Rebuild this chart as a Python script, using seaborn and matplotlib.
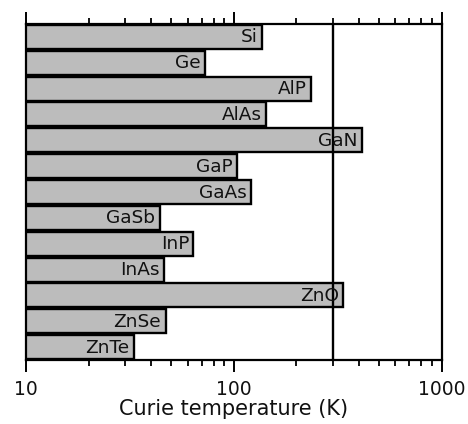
import matplotlib
matplotlib.use("Agg")
import matplotlib.pyplot as plt
import seaborn as sns
import pandas as pd
from matplotlib.ticker import LogLocator, NullFormatter

materials = ["Si", "Ge", "AlP", "AlAs", "GaN", "GaP", "GaAs", "GaSb", "InP", "InAs", "ZnO", "ZnSe", "ZnTe"]
curie_k = [137, 73, 235, 143, 413, 104, 121, 44, 64, 46, 337, 47, 33]
tick_values = [10, 100, 1000]
tick_labels = ["10", "100", "1000"]
room_temp = 300

sns.set_theme(style="white")
plt.rcParams["font.family"] = ["DejaVu Sans"]

df = pd.DataFrame({"material": materials, "tc": curie_k})

fig = plt.figure(figsize=(4.68, 4.24), dpi=100)
ax = fig.add_axes([26/468, 1-360/424, (441.5-26)/468, (360-24)/424])

sns.barplot(data=df, x="tc", y="material", orient="h", color="#bcbcbc",
            saturation=1, edgecolor="black", linewidth=1.7, width=0.93, ax=ax)
ax.set_xscale("log")
ax.set_xlim(10, 1000)
ax.set_ylim(len(materials) - 0.5, -0.5)

for i, (m, v) in enumerate(zip(materials, curie_k)):
    ax.text(v / 1.05, i + 0.02, m, ha="right", va="center", fontsize=13.3, color="#111111")

ax.axvline(room_temp, color="black", linewidth=1.7)

ax.set_xticks(tick_values, labels=tick_labels)
ax.xaxis.set_minor_locator(LogLocator(base=10, subs=range(2, 10)))
ax.xaxis.set_minor_formatter(NullFormatter())
ax.tick_params(axis="x", which="major", direction="out", length=8.5, width=1.4,
               top=True, bottom=True, labeltop=False, labelsize=13.5, pad=6,
               color="black", labelcolor="#111111")
ax.tick_params(axis="x", which="minor", direction="out", length=4.5, width=1.3,
               top=True, bottom=True, color="black")
ax.set_yticks([])
ax.set_ylabel("")
ax.set_xlabel("Curie temperature (K)", fontsize=15, labelpad=0, color="#111111")
for s in ax.spines.values():
    s.set_visible(True)
    s.set_color("black")
    s.set_linewidth(1.6)

fig.savefig("out.png", dpi=100)
